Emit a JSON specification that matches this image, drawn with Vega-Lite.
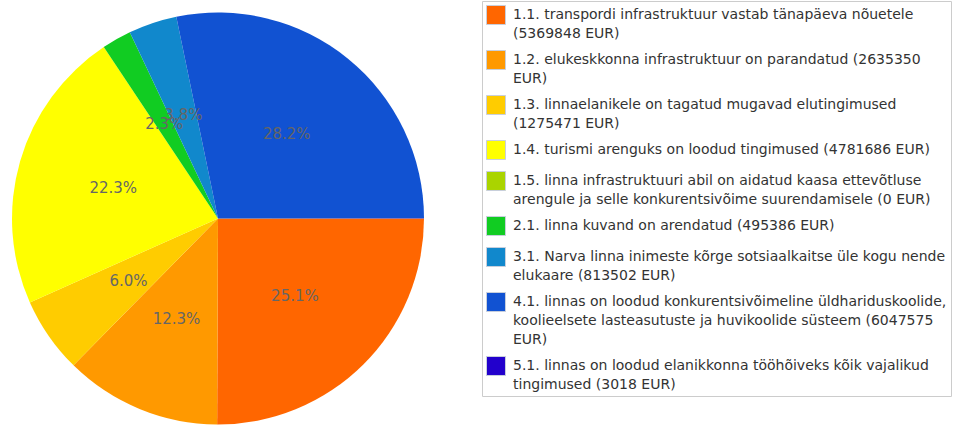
{
  "$schema": "https://vega.github.io/schema/vega-lite/v6.json",
  "width": 436,
  "height": 421,
  "autosize": "none",
  "padding": {"left": 0, "top": 8, "right": 528, "bottom": 0},
  "background": "white",
  "config": {"view": {"stroke": null}},
  "data": {
    "values": [
      {"idx": 1, "label": "1.1. transpordi infrastruktuur vastab tänapäeva nõuetele\n(5369848 EUR)", "value": 5369848},
      {"idx": 2, "label": "1.2. elukeskkonna infrastruktuur on parandatud (2635350\nEUR)", "value": 2635350},
      {"idx": 3, "label": "1.3. linnaelanikele on tagatud mugavad elutingimused\n(1275471 EUR)", "value": 1275471},
      {"idx": 4, "label": "1.4. turismi arenguks on loodud tingimused (4781686 EUR)", "value": 4781686},
      {"idx": 5, "label": "1.5. linna infrastruktuuri abil on aidatud kaasa ettevõtluse\narengule ja selle konkurentsivõime suurendamisele (0 EUR)", "value": 0},
      {"idx": 6, "label": "2.1. linna kuvand on arendatud (495386 EUR)", "value": 495386},
      {"idx": 7, "label": "3.1. Narva linna inimeste kõrge sotsiaalkaitse üle kogu nende\nelukaare (813502 EUR)", "value": 813502},
      {"idx": 8, "label": "4.1. linnas on loodud konkurentsivõimeline üldhariduskoolide,\nkoolieelsete lasteasutuste ja huvikoolide süsteem (6047575\nEUR)", "value": 6047575},
      {"idx": 9, "label": "5.1. linnas on loodud elanikkonna tööhõiveks kõik vajalikud\ntingimused (3018 EUR)", "value": 3018}
    ]
  },
  "transform": [
    {"joinaggregate": [{"op": "sum", "field": "value", "as": "total"}]},
    {"calculate": "datum.value / datum.total", "as": "pct"},
    {"calculate": "datum.pct >= 0.01 ? format(datum.pct, '.1%') : ''", "as": "pctLabel"}
  ],
  "layer": [
    {
      "mark": {"type": "arc", "outerRadius": 206, "stroke": null},
      "encoding": {
        "theta": {"field": "value", "type": "quantitative", "stack": true, "scale": {"range": [1.5707963, 7.8539816]}},
        "order": {"field": "idx", "type": "quantitative"},
        "color": {
          "field": "label",
          "type": "nominal",
          "scale": {
            "domain": [
              "1.1. transpordi infrastruktuur vastab tänapäeva nõuetele\n(5369848 EUR)",
              "1.2. elukeskkonna infrastruktuur on parandatud (2635350\nEUR)",
              "1.3. linnaelanikele on tagatud mugavad elutingimused\n(1275471 EUR)",
              "1.4. turismi arenguks on loodud tingimused (4781686 EUR)",
              "1.5. linna infrastruktuuri abil on aidatud kaasa ettevõtluse\narengule ja selle konkurentsivõime suurendamisele (0 EUR)",
              "2.1. linna kuvand on arendatud (495386 EUR)",
              "3.1. Narva linna inimeste kõrge sotsiaalkaitse üle kogu nende\nelukaare (813502 EUR)",
              "4.1. linnas on loodud konkurentsivõimeline üldhariduskoolide,\nkoolieelsete lasteasutuste ja huvikoolide süsteem (6047575\nEUR)",
              "5.1. linnas on loodud elanikkonna tööhõiveks kõik vajalikud\ntingimused (3018 EUR)"
            ],
            "range": ["#FF6600", "#FF9900", "#FFCC00", "#FFFF00", "#AAD400", "#11CC22", "#1188CC", "#1152D2", "#2200CC"]
          },
          "legend": {
            "title": null,
            "orient": "none",
            "legendX": 482,
            "legendY": -7,
            "strokeColor": "#cccccc",
            "fillColor": "white",
            "padding": 4,
            "rowPadding": 7,
            "symbolType": "square",
            "symbolSize": 360,
            "symbolStrokeColor": "#c8cfdc",
            "symbolStrokeWidth": 1,
            "symbolOpacity": 1,
            "labelFont": "DejaVu Sans",
            "labelFontSize": 14,
            "labelColor": "#333333",
            "labelLimit": 470,
            "labelOffset": 7,
            "labelExpr": "split(datum.label, '\\n')",
            "encode": {"labels": {"update": {"lineHeight": {"value": 19}}}}
          }
        }
      }
    },
    {
      "mark": {"type": "text", "radius": 109, "font": "DejaVu Sans", "fontSize": 15, "fill": "#666666"},
      "encoding": {
        "theta": {"field": "value", "type": "quantitative", "stack": true},
        "order": {"field": "idx", "type": "quantitative"},
        "text": {"field": "pctLabel", "type": "nominal"}
      }
    }
  ]
}
